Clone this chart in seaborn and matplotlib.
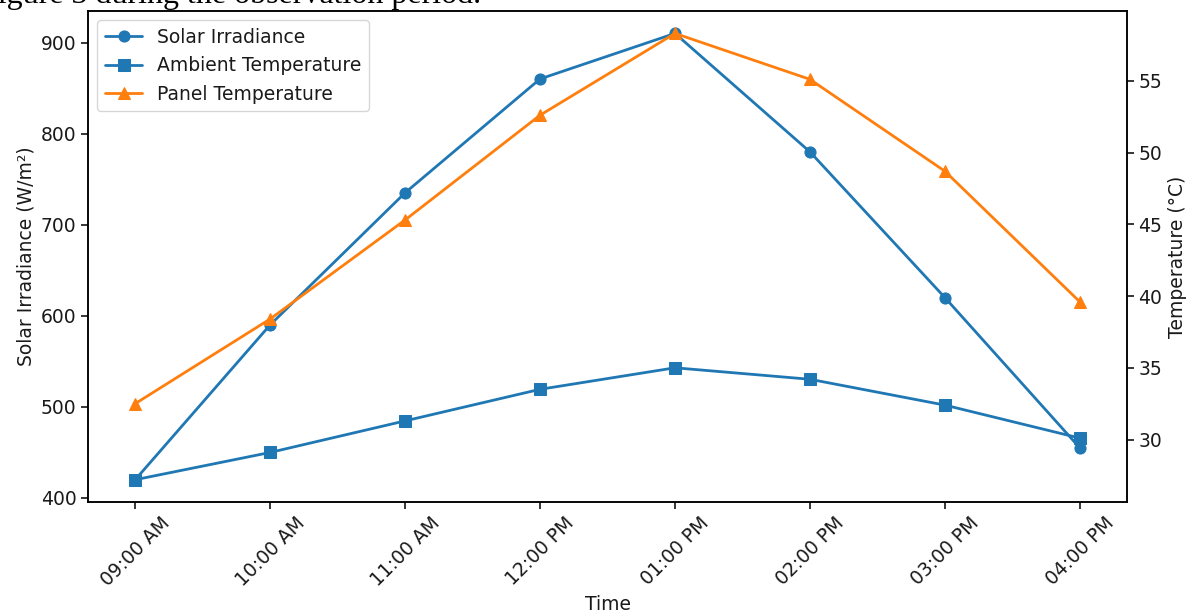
import matplotlib
matplotlib.use("Agg")
import matplotlib.pyplot as plt
import seaborn as sns
import pandas as pd

# --- Data ---
times = ["09:00 AM", "10:00 AM", "11:00 AM", "12:00 PM",
         "01:00 PM", "02:00 PM", "03:00 PM", "04:00 PM"]
irradiance = [420, 590, 735, 860, 910, 780, 620, 455]
ambient_temp = [27.2, 29.1, 31.3, 33.5, 35.0, 34.2, 32.4, 30.1]
panel_temp = [32.5, 38.4, 45.3, 52.6, 58.3, 55.1, 48.7, 39.6]

df = pd.DataFrame({"Time": times, "Irr": irradiance,
                   "Amb": ambient_temp, "Panel": panel_temp})

FS = 13.5
sns.set_theme(style="ticks", rc={"axes.edgecolor": "black",
                                 "axes.linewidth": 1.1,
                                 "xtick.color": "black", "ytick.color": "black",
                                 "xtick.major.size": 4.7, "ytick.major.size": 4.7,
                                 "xtick.major.width": 1.1, "ytick.major.width": 1.1,
                                 "text.color": "#1a1a1a", "axes.labelcolor": "#1a1a1a",
                                 "xtick.labelcolor": "#1a1a1a", "ytick.labelcolor": "#1a1a1a"})
plt.rcParams["font.family"] = ["DejaVu Sans"]

BLUE = "#1f77b4"
ORANGE = "#ff7f0e"

fig = plt.figure(figsize=(11.92, 6.16), dpi=100)
ax1 = fig.add_axes([0.0738, 0.185, 0.8717, 0.797])
ax2 = ax1.twinx()

line_kw = dict(sort=False, markersize=8, linewidth=2.0, legend=False)
sns.lineplot(data=df, x="Time", y="Irr", marker="o", color=BLUE,
             markeredgecolor=BLUE, label="Solar Irradiance", ax=ax1, **line_kw)
sns.lineplot(data=df, x="Time", y="Amb", marker="s", color=BLUE,
             markeredgecolor=BLUE, label="Ambient Temperature", ax=ax2, **line_kw)
sns.lineplot(data=df, x="Time", y="Panel", marker="^", color=ORANGE,
             markeredgecolor=ORANGE, label="Panel Temperature", ax=ax2, **line_kw)

ax1.set_ylabel("Solar Irradiance (W/m²)", fontsize=FS)
ax2.set_ylabel("Temperature (°C)", fontsize=FS)
ax1.set_xlabel("Time", fontsize=FS)
ax1.tick_params(axis="x", rotation=45, labelsize=FS)
ax1.tick_params(axis="y", labelsize=FS)
ax2.tick_params(axis="y", labelsize=FS)
ax1.set_yticks([400, 500, 600, 700, 800, 900])
ax2.set_yticks([30, 35, 40, 45, 50, 55])
ax1.margins(x=0.05, y=0.05)
ax2.margins(y=0.05)

h1, l1 = ax1.get_legend_handles_labels()
h2, l2 = ax2.get_legend_handles_labels()
ax2.legend(h1 + h2, l1 + l2, loc="upper left", fontsize=FS, frameon=True)

# cropped caption text from the surrounding document
fig.text(-20 / 1192, 1.0 - 3 / 616, "Figure 3 during the observation period.",
         family="Liberation Serif", fontsize=23, va="baseline", ha="left",
         color="black")

fig.savefig("out.png", dpi=100)
